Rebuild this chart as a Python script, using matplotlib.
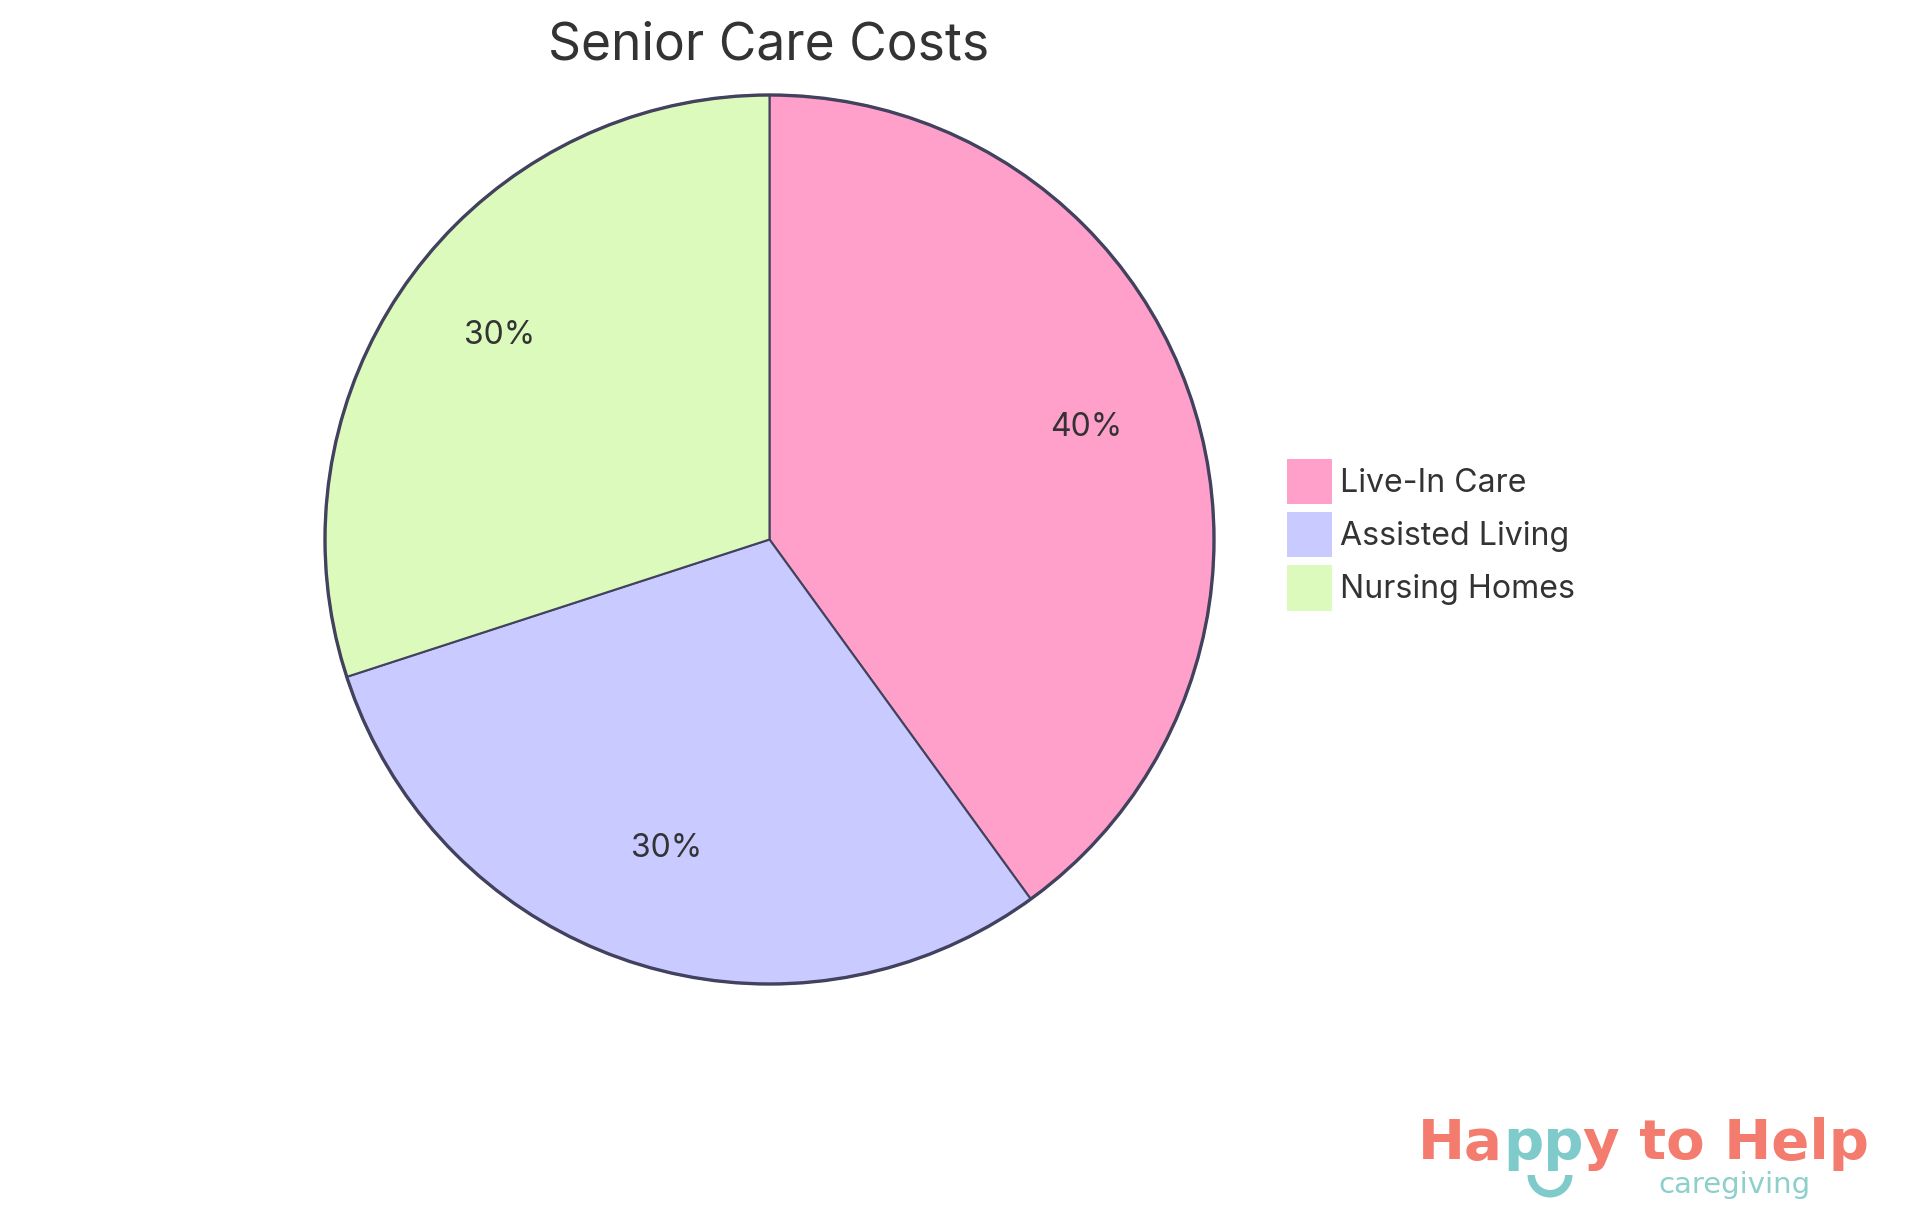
import matplotlib
matplotlib.use("Agg")
import matplotlib.pyplot as plt
from matplotlib.patches import Circle, Wedge, Patch

categories = ["Live-In Care", "Assisted Living", "Nursing Homes"]
values = [40, 30, 30]
colors = ["#FFA0CB", "#C9CAFF", "#DCFABB"]
title = "Senior Care Costs"
logo_parts = [("Ha", "#F47C6E"), ("pp", "#7FCACA"), ("y to Help", "#F47C6E")]
logo_sub = "caregiving"

W, H = 1920, 1215
plt.rcParams["font.family"] = ["Inter", "DejaVu Sans"]
TEXT = "#333333"
EDGE = "#42425F"

fig = plt.figure(figsize=(W / 100, H / 100), dpi=100, facecolor="white")

# Pixel-space layer for decoration
bg = fig.add_axes([0, 0, 1, 1])
bg.set_xlim(0, W)
bg.set_ylim(H, 0)
bg.axis("off")

# Pie
cx, cy, R = 769.5, 539.5, 444.5
ax = fig.add_axes([(cx - R) / W, 1 - (cy + R) / H, 2 * R / W, 2 * R / H])
wedges, _, autotexts = ax.pie(
    values, colors=colors, startangle=90, counterclock=False, radius=1,
    autopct=lambda p: f"{p:.0f}%", pctdistance=0.75,
    wedgeprops={"edgecolor": EDGE, "linewidth": 1.5},
    textprops={"fontsize": 23, "color": TEXT},
)
for t in autotexts:
    t.set_va("baseline")
    t.set_ha("center")
ax.add_patch(Circle((0, 0), 1, fill=False, edgecolor=EDGE, linewidth=2.4, zorder=5))
ax.set_xlim(-1, 1)
ax.set_ylim(-1, 1)
ax.patch.set_alpha(0)
for art in ax.patches:
    art.set_clip_on(False)

bg.text(769, 60, title, fontsize=37.1, color=TEXT, ha="center", va="baseline")

# Legend
handles = [Patch(facecolor=c, edgecolor="none") for c in colors]
fig.legend(
    handles, categories, loc="upper left",
    bbox_to_anchor=(1287 / W, 1 - 459 / H), frameon=False, fontsize=23.1,
    labelcolor=TEXT, handlelength=1.41, handleheight=1.79, handletextpad=0.25,
    labelspacing=0.25, borderpad=0, borderaxespad=0,
)

# Logo
renderer = fig.canvas.get_renderer()
x = 1418
for s, c in logo_parts:
    t = bg.text(x, 1159, s, fontsize=40.5, fontweight="bold", color=c,
                family=["DejaVu Sans"], ha="left", va="baseline")
    x = t.get_window_extent(renderer).x1
bg.add_patch(Wedge((1550, 1175), 22.5, 0, 180, width=7.5, facecolor="#7FCACA", edgecolor="none"))
bg.text(1734, 1193, logo_sub, fontsize=21, color="#8CCFCB",
        family=["DejaVu Sans"], ha="center", va="baseline")

fig.savefig("out.png", dpi=100, facecolor="white")
